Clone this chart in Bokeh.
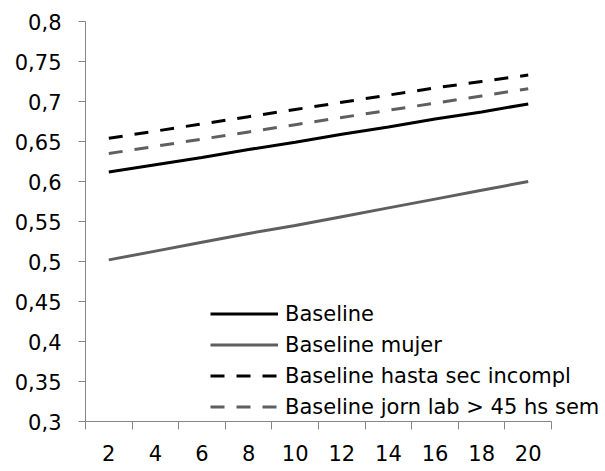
from bokeh.plotting import figure
from bokeh.models import Range1d, FixedTicker, CustomJSTickFormatter, Legend, LegendItem
from bokeh.embed import file_html
from bokeh.resources import INLINE

x_vals = [2, 4, 6, 8, 10, 12, 14, 16, 18, 20]
baseline = [0.612, 0.621, 0.630, 0.640, 0.649, 0.659, 0.668, 0.678, 0.687, 0.697]
baseline_mujer = [0.502, 0.513, 0.524, 0.535, 0.545, 0.556, 0.567, 0.578, 0.589, 0.600]
baseline_sec = [0.654, 0.663, 0.672, 0.681, 0.690, 0.699, 0.708, 0.717, 0.725, 0.733]
baseline_jorn = [0.635, 0.644, 0.653, 0.662, 0.671, 0.680, 0.689, 0.698, 0.707, 0.716]
labels = ["Baseline", "Baseline mujer", "Baseline hasta sec incompl", "Baseline jorn lab > 45 hs sem"]
y_ticks = [0.3, 0.35, 0.4, 0.45, 0.5, 0.55, 0.6, 0.65, 0.7, 0.75, 0.8]

FONT = "DejaVu Sans"
FS = "21px"
AXIS_GRAY = "#868686"
BLACK = "#000000"
GRAY = "#5f5f5f"

# frame extends right of the x axis so the legend text (which overhangs the axis end) is not clipped
p = figure(width=603, height=471, output_backend="svg", toolbar_location=None,
           x_range=Range1d(1, 23.23), y_range=Range1d(0.3, 0.8),
           min_border_left=85, min_border_right=0, min_border_top=21, min_border_bottom=50)
p.outline_line_color = None
p.xgrid.visible = False
p.ygrid.visible = False
p.background_fill_color = "white"
p.border_fill_color = "white"

r1 = p.line(x_vals, baseline, line_color=BLACK, line_width=3)
r2 = p.line(x_vals, baseline_mujer, line_color=GRAY, line_width=3)
r3 = p.line(x_vals, baseline_sec, line_color=BLACK, line_width=3, line_dash="14 12")
r4 = p.line(x_vals, baseline_jorn, line_color=GRAY, line_width=3, line_dash="14 12")

# x axis: labels at category centers, tick marks between categories
xax = p.xaxis[0]
xax.ticker = FixedTicker(ticks=x_vals, minor_ticks=[x - 1 for x in x_vals] + [x_vals[-1] + 1])
xax.bounds = (x_vals[0] - 1, x_vals[-1] + 1)
xax.major_tick_line_color = None
xax.minor_tick_line_color = AXIS_GRAY
xax.minor_tick_out = 8
xax.minor_tick_in = 0
xax.axis_line_color = AXIS_GRAY
xax.major_label_text_font = FONT
xax.major_label_text_font_size = FS
xax.major_label_text_color = BLACK
xax.major_label_standoff = 15

yax = p.yaxis[0]
yax.ticker = FixedTicker(ticks=y_ticks)
yax.formatter = CustomJSTickFormatter(code="return (Math.round(tick*100)/100).toString().replace('.', ',');")
yax.major_tick_line_color = AXIS_GRAY
yax.major_tick_out = 7
yax.major_tick_in = 0
yax.minor_tick_line_color = None
yax.axis_line_color = AXIS_GRAY
yax.major_label_text_font = FONT
yax.major_label_text_font_size = FS
yax.major_label_text_color = BLACK
yax.major_label_standoff = 17

legend = Legend(items=[LegendItem(label=l, renderers=[r]) for l, r in zip(labels, [r1, r2, r3, r4])],
                location=(125, -1), padding=0, margin=0, spacing=0,
                glyph_width=68, glyph_height=31, label_height=31, label_standoff=7,
                label_text_font=FONT, label_text_font_size=FS, label_text_color=BLACK,
                border_line_color=None, background_fill_alpha=0)
p.add_layout(legend, "center")

open("out.html", "w").write(file_html(p, INLINE))
